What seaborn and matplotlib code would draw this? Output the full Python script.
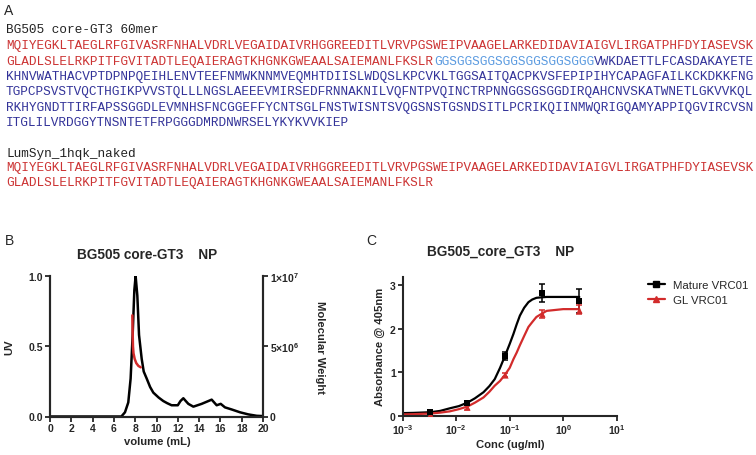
import seaborn as sns
import matplotlib.pyplot as plt
from matplotlib.lines import Line2D

# ---- panel A: sequences ----
seq60_name = "BG505 core-GT3 60mer"
seq60_red = ["MQIYEGKLTAEGLRFGIVASRFNHALVDRLVEGAIDAIVRHGGREEDITLVRVPGSWEIPVAAGELARKEDIDAVIAIGVLIRGATPHFDYIASEVSK",
             "GLADLSLELRKPITFGVITADTLEQAIERAGTKHGNKGWEAALSAIEMANLFKSLR"]
seq60_linker = "GGSGGSGGSGGSGGSGGSGGG"
seq60_blue = ["VWKDAETTLFCASDAKAYETE",
              "KHNVWATHACVPTDPNPQEIHLENVTEEFNMWKNNMVEQMHTDIISLWDQSLKPCVKLTGGSAITQACPKVSFEPIPIHYCAPAGFAILKCKDKKFNG",
              "TGPCPSVSTVQCTHGIKPVVSTQLLLNGSLAEEEVMIRSEDFRNNAKNILVQFNTPVQINCTRPNNGGSGSGGDIRQAHCNVSKATWNETLGKVVKQL",
              "RKHYGNDTTIRFAPSSGGDLEVMNHSFNCGGEFFYCNTSGLFNSTWISNTSVQGSNSTGSNDSITLPCRIKQIINMWQRIGQAMYAPPIQGVIRCVSN",
              "ITGLILVRDGGYTNSNTETFRPGGGDMRDNWRSELYKYKVVKIEP"]
lum_name = "LumSyn_1hqk_naked"
lum_red = ["MQIYEGKLTAEGLRFGIVASRFNHALVDRLVEGAIDAIVRHGGREEDITLVRVPGSWEIPVAAGELARKEDIDAVIAIGVLIRGATPHFDYIASEVSK",
           "GLADLSLELRKPITFGVITADTLEQAIERAGTKHGNKGWEAALSAIEMANLFKSLR"]

# ---- panel B: SEC trace ----
vol = [0, 6.7, 7.04, 7.35, 7.57, 7.76, 7.92, 8.04, 8.2, 8.36, 8.61, 8.8, 9.08, 9.4, 9.7, 10.2, 10.64, 11.0,
       11.42, 12.0, 12.25, 12.52, 12.75, 12.99, 13.46, 14.24, 14.87, 15.18, 15.65, 16.03, 16.43, 17.06,
       17.84, 18.62, 19.41, 20]
uv = [0, 0, 0.03, 0.10, 0.27, 0.58, 0.90, 1.0, 0.86, 0.58, 0.41, 0.32, 0.27, 0.21, 0.17, 0.135, 0.11, 0.095,
      0.08, 0.08, 0.11, 0.13, 0.11, 0.09, 0.07, 0.09, 0.11, 0.12, 0.08, 0.09, 0.065, 0.05,
      0.03, 0.015, 0.005, 0.003]
mw_vol = [7.73, 7.76, 7.79, 7.84, 7.95, 8.1, 8.3, 8.52]
mw = [7.2e6, 6.0e6, 5.0e6, 4.5e6, 4.1e6, 3.8e6, 3.6e6, 3.5e6]

# ---- panel C: ELISA ----
conc = [0.0032, 0.016, 0.08, 0.4, 2.0]
mature_mean = [0.08, 0.29, 1.37, 2.82, 2.64]
mature_err = [0.02, 0.03, 0.10, 0.21, 0.27]
gl_mean = [0.04, 0.19, 0.94, 2.34, 2.44]
gl_err = [0.02, 0.06, 0.04, 0.10, 0.11]
fit_conc = [0.001, 0.0016, 0.0033, 0.005, 0.0076, 0.0112, 0.0162, 0.0224, 0.0324, 0.0417, 0.0525, 0.066,
            0.0813, 0.1, 0.1175, 0.135, 0.155, 0.186, 0.224, 0.263, 0.316, 0.38, 0.49, 1.0, 2.0]
mature_fit = [0.06, 0.065, 0.08, 0.11, 0.17, 0.22, 0.30, 0.40, 0.54, 0.68, 0.84, 1.10,
              1.37, 1.65, 1.88, 2.10, 2.30, 2.48, 2.61, 2.67, 2.71, 2.72, 2.73, 2.73, 2.73]
gl_fit = [0.03, 0.035, 0.05, 0.07, 0.10, 0.15, 0.21, 0.30, 0.42, 0.55, 0.69, 0.80,
          0.94, 1.10, 1.30, 1.45, 1.62, 1.83, 2.04, 2.15, 2.27, 2.33, 2.41, 2.45, 2.45]

RED_TXT = "#cc3333"
BLUE_TXT = "#333399"
LINK_TXT = "#5a9ae0"
RED = "#d22b2b"

sns.set_theme(style="ticks")
plt.rcParams["font.family"] = ["Liberation Sans", "DejaVu Sans"]
plt.rcParams["font.weight"] = "bold"
plt.rcParams["axes.linewidth"] = 1.5
plt.rcParams["xtick.major.width"] = 1.3
plt.rcParams["ytick.major.width"] = 1.3
plt.rcParams["xtick.major.size"] = 3.5
plt.rcParams["ytick.major.size"] = 3.5
plt.rcParams["xtick.minor.size"] = 0
plt.rcParams["xtick.major.pad"] = 1.5
plt.rcParams["ytick.major.pad"] = 1.5
plt.rcParams["xtick.labelsize"] = 7.5
plt.rcParams["ytick.labelsize"] = 7.5
plt.rcParams["axes.labelsize"] = 8.1
plt.rcParams["axes.labelweight"] = "bold"

W, H = 756, 456
fig = plt.figure(figsize=(W / 100, H / 100), dpi=100)


def fx(x):
    return x / W


def fy(y):
    return 1 - y / H


# panel A text
mono = dict(family="Liberation Mono", weight="normal", size=9.17, va="baseline")
x0 = 6
cw = 7.64
fig.text(fx(4), fy(15), "A", fontsize=10, weight="normal", va="baseline")
fig.text(fx(x0), fy(33.3), seq60_name, color="#222222", **mono)
fig.text(fx(x0), fy(49.0), seq60_red[0], color=RED_TXT, **mono)
fig.text(fx(x0), fy(64.6), seq60_red[1], color=RED_TXT, **mono)
fig.text(fx(x0 + len(seq60_red[1]) * cw), fy(64.6), seq60_linker, color=LINK_TXT, **mono)
fig.text(fx(x0 + (len(seq60_red[1]) + len(seq60_linker)) * cw), fy(64.6), seq60_blue[0], color=BLUE_TXT, **mono)
for i, line in enumerate(seq60_blue[1:]):
    fig.text(fx(x0), fy(80.0 + i * 15.4), line, color=BLUE_TXT, **mono)
fig.text(fx(x0), fy(156.7), lum_name, color="#222222", **mono)
fig.text(fx(x0), fy(170.9), lum_red[0], color=RED_TXT, **mono)
fig.text(fx(x0), fy(186.2), lum_red[1], color=RED_TXT, **mono)

# panel B
axB = fig.add_axes([fx(50), fy(417.5), (263 - 50) / W, (417.5 - 277) / H])
sns.lineplot(x=vol, y=uv, ax=axB, color="black", lw=1.8, sort=False, estimator=None)
axB.set_xlim(0, 20)
axB.set_ylim(0, 1.0)
axB.set_xticks(range(0, 21, 2))
axB.set_yticks([0, 0.5, 1.0])
axB.set_yticklabels(["0.0", "0.5", "1.0"])
axB.spines["top"].set_visible(False)
axB.set_xlabel("volume (mL)")
axB.set_ylabel("UV")
axB.xaxis.set_label_coords(0.506, -0.142)
axB.yaxis.set_label_coords(-0.169, 0.5)
axB2 = axB.twinx()
sns.lineplot(x=mw_vol, y=mw, ax=axB2, color=RED, lw=1.8, sort=False, estimator=None)
axB2.set_ylim(0, 1e7)
axB2.set_yticks([0, 5e6, 1e7])
axB2.set_yticklabels(["0", r"$\mathdefault{5×10^{6}}$", r"$\mathdefault{1×10^{7}}$"])
axB2.spines["top"].set_visible(False)
axB2.set_ylabel("Molecular Weight", rotation=270, va="bottom")
axB2.yaxis.set_label_coords(1.244, 0.5)
fig.text(fx(147.5), fy(259.3), "BG505 core-GT3    NP", fontsize=9.8, ha="center", va="baseline")
fig.text(fx(5), fy(245), "B", fontsize=10, weight="normal", va="baseline")

# panel C
axC = fig.add_axes([fx(402.7), fy(416.7), (616.7 - 402.7) / W, (416.7 - 277.5) / H])
sns.lineplot(x=fit_conc, y=mature_fit, ax=axC, color="black", lw=1.6, sort=False, estimator=None)
sns.lineplot(x=fit_conc, y=gl_fit, ax=axC, color=RED, lw=1.6, sort=False, estimator=None)
axC.errorbar(conc, mature_mean, yerr=mature_err, fmt="none", ecolor="black", elinewidth=1.1, capsize=2.5, capthick=1.1)
axC.errorbar(conc, gl_mean, yerr=gl_err, fmt="none", ecolor=RED, elinewidth=1.1, capsize=2.5, capthick=1.1)
sns.scatterplot(x=conc, y=mature_mean, ax=axC, marker="s", color="black", s=22, edgecolor="black", linewidth=0, zorder=5)
sns.scatterplot(x=conc, y=gl_mean, ax=axC, marker="^", color=RED, s=20, edgecolor=RED, linewidth=0, zorder=4)
axC.set_xscale("log")
axC.set_xlim(1e-3, 10)
axC.set_ylim(0, 3.2)
axC.set_yticks([0, 1, 2, 3])
axC.set_xticks([1e-3, 1e-2, 1e-1, 1, 10])
axC.minorticks_off()
sns.despine(ax=axC)
axC.set_xlabel("Conc (ug/ml)")
axC.set_ylabel("Absorbance @ 405nm")
axC.xaxis.set_label_coords(0.501, -0.167)
axC.yaxis.set_label_coords(-0.085, 0.5)
fig.text(fx(501), fy(256), "BG505_core_GT3    NP", fontsize=9.8, ha="center", va="baseline")
fig.text(fx(366), fy(245), "C", fontsize=10, weight="normal", va="baseline")

handles = [Line2D([], [], color="black", lw=1.6, marker="s", ms=4.5),
           Line2D([], [], color=RED, lw=1.6, marker="^", ms=4.5)]
fig.legend(handles, ["Mature VRC01", "GL VRC01"], loc="center left",
           bbox_to_anchor=(fx(648), fy(293.3)), bbox_transform=fig.transFigure,
           frameon=False, borderpad=0, borderaxespad=0, handlelength=1.45,
           handletextpad=0.75, labelspacing=0.4, prop=dict(size=8.2, weight="normal"))

fig.savefig("out.png", dpi=100)
